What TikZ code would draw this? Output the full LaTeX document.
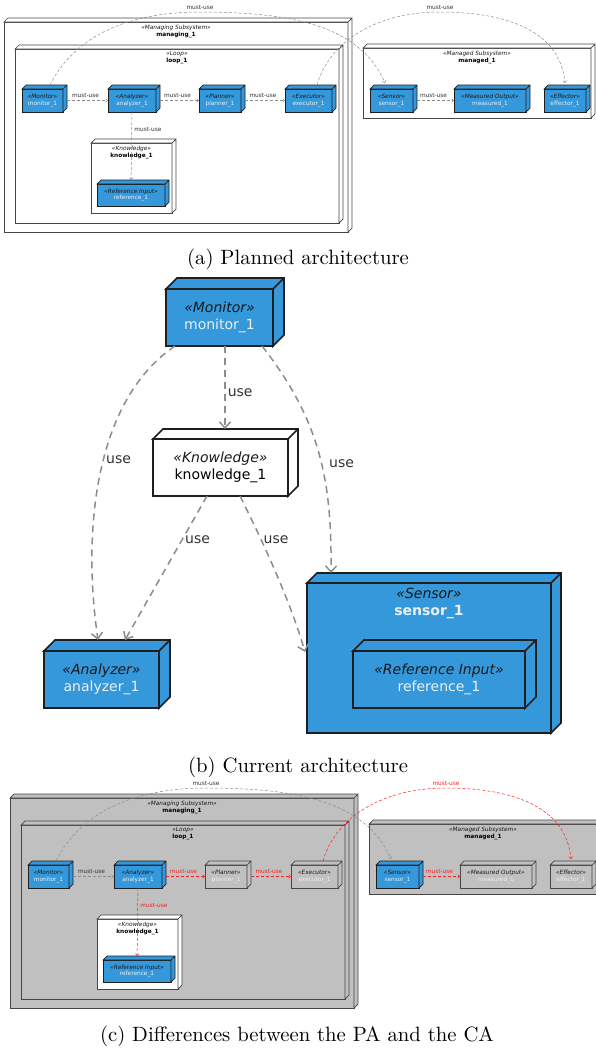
\documentclass[tikz,border=0pt]{standalone}
\usepackage{fontspec}
\newfontfamily\umlfont{DejaVu Sans}
\usetikzlibrary{arrows.meta,positioning}

\definecolor{umlblue}{RGB}{52,152,219}
\definecolor{boxline}{RGB}{30,30,30}
\definecolor{frameline}{RGB}{70,70,70}
\definecolor{silver}{RGB}{192,192,192}
\definecolor{usegray}{RGB}{140,140,140}
\definecolor{stereoink}{RGB}{25,25,25}
\definecolor{namewhite}{RGB}{236,240,241}
\definecolor{diffred}{RGB}{255,30,30}

\newcommand\stereo[1]{{\color{stereoink}\itshape «#1»}}
% top and right faces of a 3d box
\newcommand\depthfaces[3]{%
  \filldraw[#3] (#1.north west) -- ++(#2,-#2) -- ([shift={(#2,-#2)}]#1.north east)
    -- ([shift={(#2,-#2)}]#1.south east) -- (#1.south east) -- (#1.north east) -- cycle
    (#1.north east) -- ++(#2,-#2);}

\tikzset{
  smalltext/.style={font=\umlfont\fontsize{5.8}{6.9}\selectfont},
  bigtext/.style={font=\umlfont\fontsize{14}{16.5}\selectfont},
  dev/.style={draw=boxline, fill=umlblue, text=namewhite, line width=0.7pt, inner sep=0pt, outer sep=0pt, align=center, smalltext},
  devoff/.style={dev, fill=silver, draw=frameline},
  framebox/.style={draw=frameline, fill=white, line width=0.7pt, inner sep=0pt, outer sep=0pt},
  frameoff/.style={framebox, fill=silver},
  bigdev/.style={dev, bigtext, line width=1.6pt},
  bigframe/.style={framebox, bigtext, draw=boxline, align=center, line width=1.6pt},
  frametitle/.style={smalltext, align=center, inner sep=0pt},
  mustuse/.style={draw=usegray, dash pattern=on 3pt off 2pt, line width=0.5pt, -{Straight Barb[length=2pt,width=3.5pt]}},
  mustred/.style={mustuse, draw=diffred},
  uselink/.style={draw=usegray, dash pattern=on 7pt off 5pt, line width=1.5pt, -{Straight Barb[length=6pt,width=11pt]}},
  lbl/.style={smalltext, text=black!80, inner sep=2.5pt},
  redlbl/.style={lbl, text=diffred},
  biglbl/.style={bigtext, text=black!80, inner sep=2pt}
}

\begin{document}
\begin{tikzpicture}[x=1pt,y=-1pt]
\useasboundingbox (0,0) rectangle (595,1050);

% (a) planned architecture
\node[framebox, minimum width=344pt, minimum height=210pt] (managing_a) at (176,127) {};
\node[frametitle, below=2.5pt of managing_a.north] (managing_a_t) {\stereo{Managing Subsystem}\\\textbf{managing\_1}};
\node[framebox, minimum width=324pt, minimum height=174pt] (loop_a) at (177,136) {};
\node[frametitle, below=2.5pt of loop_a.north] (loop_a_t) {\stereo{Loop}\\\textbf{loop\_1}};
\node[dev, minimum width=41pt, minimum height=23pt] (mon_a) at (42.5,100.5) {\stereo{Monitor}\\monitor\_1};
\node[dev, minimum width=48pt, minimum height=23pt] (ana_a) at (132,100.5) {\stereo{Analyzer}\\analyzer\_1};
\node[dev, minimum width=42pt, minimum height=23pt] (pla_a) at (220,100.5) {\stereo{Planner}\\planner\_1};
\node[dev, minimum width=47pt, minimum height=23pt] (exe_a) at (308.5,100.5) {\stereo{Executor}\\executor\_1};
\node[framebox, minimum width=81pt, minimum height=70pt] (kno_a) at (131.5,178) {};
\node[frametitle, below=2.5pt of kno_a.north] (kno_a_t) {\stereo{Knowledge}\\\textbf{knowledge\_1}};
\node[dev, minimum width=68pt, minimum height=22pt] (ref_a) at (131,195) {\stereo{Reference Input}\\reference\_1};
\node[framebox, minimum width=228pt, minimum height=70pt] (managed_a) at (477,83) {};
\node[frametitle, below=2.5pt of managed_a.north] (managed_a_t) {\stereo{Managed Subsystem}\\\textbf{managed\_1}};
\node[dev, minimum width=43pt, minimum height=23pt] (sen_a) at (391.5,100.5) {\stereo{Sensor}\\sensor\_1};
\node[dev, minimum width=72pt, minimum height=23pt] (mea_a) at (490,100.5) {\stereo{Measured Output}\\measured\_1};
\node[dev, minimum width=42pt, minimum height=23pt] (eff_a) at (565,100.5) {\stereo{Effector}\\effector\_1};
\foreach \n in {managing_a, loop_a, kno_a, managed_a} \depthfaces{\n}{4}{framebox};
\foreach \n in {mon_a, ana_a, pla_a, exe_a, ref_a, sen_a, mea_a, eff_a} \depthfaces{\n}{4}{dev};

\draw[mustuse, shorten <=4pt] (mon_a) -- node[lbl, above]{must-use} (ana_a);
\draw[mustuse, shorten <=4pt] (ana_a) -- node[lbl, above]{must-use} (pla_a);
\draw[mustuse, shorten <=4pt] (pla_a) -- node[lbl, above]{must-use} (exe_a);
\draw[mustuse, shorten >=4pt] (ana_a) -- node[lbl, right, pos=0.24]{must-use} (ref_a);
\draw[mustuse, shorten <=4pt] (sen_a) -- node[lbl, above]{must-use} (mea_a);
\coordinate (top_sen_a) at (200,12);
\coordinate (top_eff_a) at (440,12);
\draw[mustuse] ([shift={(7.5,-4)}]mon_a.north) .. controls (75,35) and (130,12) .. (top_sen_a) node[lbl, above]{must-use}
  .. controls (290,12) and (360,25) .. ([shift={(-6.5,-6)}]sen_a.north);
\draw[mustuse] ([shift={(8.5,-4)}]exe_a.north) .. controls (330,40) and (378,12) .. (top_eff_a) node[lbl, above]{must-use}
  .. controls (505,12) and (560,30) .. ([shift={(0,-6)}]eff_a.north);

\node (cap_a) at (298,259) {\scalebox{2.07}{(a) Planned architecture}};

% (b) current architecture
\node[bigdev, minimum width=107pt, minimum height=57pt] (mon_b) at (219.5,317.5) {\stereo{Monitor}\\monitor\_1};
\node[bigframe, minimum width=135pt, minimum height=57pt] (kno_b) at (220.5,467.5) {\stereo{Knowledge}\\knowledge\_1};
\node[bigdev, minimum width=115pt, minimum height=57pt] (ana_b) at (101.5,679.5) {\stereo{Analyzer}\\analyzer\_1};
\node[bigdev, minimum width=244pt, minimum height=150pt] (sen_b) at (429,658) {};
\node[bigtext, text=namewhite, align=center, inner sep=0pt, below=5pt of sen_b.north] (sen_b_t) {\stereo{Sensor}\\\textbf{sensor\_1}};
\node[bigdev, minimum width=172pt, minimum height=57pt] (ref_b) at (439,679.5) {\stereo{Reference Input}\\reference\_1};
\depthfaces{mon_b}{11}{bigdev}
\depthfaces{kno_b}{10}{bigframe}
\depthfaces{ana_b}{11}{bigdev}
\depthfaces{sen_b}{10}{bigdev}
\depthfaces{ref_b}{11}{bigdev}

\draw[uselink, shorten >=10pt] ([xshift=5.5pt]mon_b.south) -- node[biglbl, right]{use} ([xshift=4.5pt]kno_b.north);
\draw[uselink] ([xshift=9pt]mon_b.south west) .. controls (95,400) and (82,530) .. node[biglbl, right, pos=0.46]{use} ([shift={(-3.5,-11)}]ana_b.north);
\draw[uselink] ([xshift=-13.5pt]kno_b.south) -- node[biglbl, right, pos=0.3]{use} ([shift={(23.5,-11)}]ana_b.north);
\draw[uselink] ([xshift=-11pt]mon_b.south east) .. controls (320,420) and (332,480) .. node[biglbl, right, pos=0.55, xshift=5pt]{use} ([shift={(-98,-10)}]sen_b.north);
\draw[uselink] ([xshift=19.5pt]kno_b.south) .. controls (262,540) and (290,600) .. node[biglbl, right, pos=0.3]{use} ([shift={(-2,-6)}]sen_b.west);

\node (cap_b) at (298,767) {\scalebox{2.07}{(b) Current architecture}};

% (c) differences between PA and CA
\begin{scope}[shift={(6,776)}]
\node[frameoff, minimum width=344pt, minimum height=210pt] (managing_c) at (176,127) {};
\node[frametitle, below=2.5pt of managing_c.north] (managing_c_t) {\stereo{Managing Subsystem}\\\textbf{managing\_1}};
\node[frameoff, minimum width=324pt, minimum height=174pt] (loop_c) at (177,136) {};
\node[frametitle, below=2.5pt of loop_c.north] (loop_c_t) {\stereo{Loop}\\\textbf{loop\_1}};
\node[dev, minimum width=41pt, minimum height=23pt] (mon_c) at (42.5,100.5) {\stereo{Monitor}\\monitor\_1};
\node[dev, minimum width=48pt, minimum height=23pt] (ana_c) at (132,100.5) {\stereo{Analyzer}\\analyzer\_1};
\node[devoff, minimum width=42pt, minimum height=23pt] (pla_c) at (220,100.5) {\stereo{Planner}\\planner\_1};
\node[devoff, minimum width=47pt, minimum height=23pt] (exe_c) at (308.5,100.5) {\stereo{Executor}\\executor\_1};
\node[framebox, minimum width=81pt, minimum height=70pt] (kno_c) at (131.5,178) {};
\node[frametitle, below=2.5pt of kno_c.north] (kno_c_t) {\stereo{Knowledge}\\\textbf{knowledge\_1}};
\node[dev, minimum width=68pt, minimum height=22pt] (ref_c) at (131,195) {\stereo{Reference Input}\\reference\_1};
\node[frameoff, minimum width=228pt, minimum height=70pt] (managed_c) at (477,83) {};
\node[frametitle, below=2.5pt of managed_c.north] (managed_c_t) {\stereo{Managed Subsystem}\\\textbf{managed\_1}};
\node[dev, minimum width=43pt, minimum height=23pt] (sen_c) at (391.5,100.5) {\stereo{Sensor}\\sensor\_1};
\node[devoff, minimum width=72pt, minimum height=23pt] (mea_c) at (490,100.5) {\stereo{Measured Output}\\measured\_1};
\node[devoff, minimum width=42pt, minimum height=23pt] (eff_c) at (565,100.5) {\stereo{Effector}\\effector\_1};
\foreach \n in {managing_c, loop_c, managed_c} \depthfaces{\n}{4}{frameoff};
\depthfaces{kno_c}{4}{framebox}
\foreach \n in {mon_c, ana_c, ref_c, sen_c} \depthfaces{\n}{4}{dev};
\foreach \n in {pla_c, exe_c, mea_c, eff_c} \depthfaces{\n}{4}{devoff};

\draw[mustuse, shorten <=4pt] (mon_c) -- node[lbl, above]{must-use} (ana_c);
\draw[mustred, shorten <=4pt] (ana_c) -- node[redlbl, above]{must-use} (pla_c);
\draw[mustred, shorten <=4pt] (pla_c) -- node[redlbl, above]{must-use} (exe_c);
\draw[mustred, shorten >=4pt] (ana_c) -- node[redlbl, right, pos=0.24]{must-use} (ref_c);
\draw[mustred, shorten <=4pt] (sen_c) -- node[redlbl, above]{must-use} (mea_c);
\coordinate (top_sen_c) at (200,12);
\coordinate (top_eff_c) at (440,12);
\draw[mustuse] ([shift={(7.5,-4)}]mon_c.north) .. controls (75,35) and (130,12) .. (top_sen_c) node[lbl, above]{must-use}
  .. controls (290,12) and (360,25) .. ([shift={(-6.5,-6)}]sen_c.north);
\draw[mustred] ([shift={(8.5,-4)}]exe_c.north) .. controls (330,40) and (378,12) .. (top_eff_c) node[redlbl, above]{must-use}
  .. controls (505,12) and (560,30) .. ([shift={(0,-6)}]eff_c.north);
\end{scope}

\node (cap_c) at (297,1036) {\scalebox{2.07}{(c) Differences between the PA and the CA}};
\end{tikzpicture}
\end{document}
